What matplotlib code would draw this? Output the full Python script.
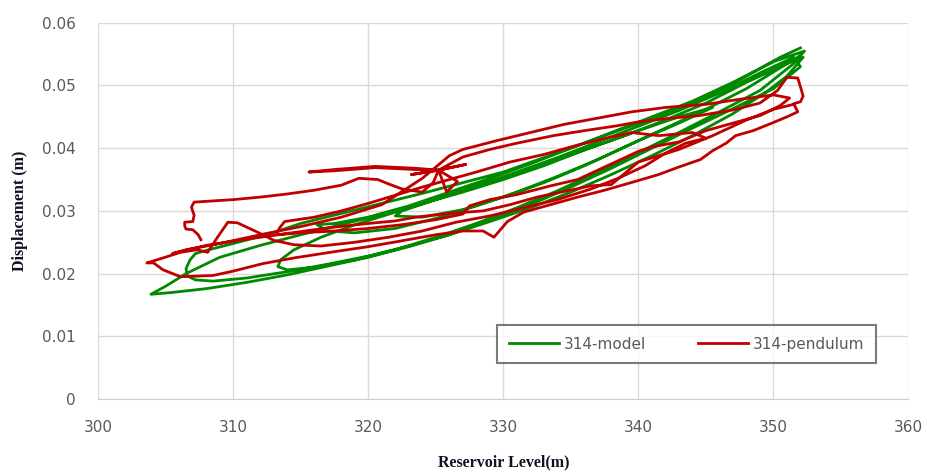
import matplotlib
matplotlib.use('Agg')
import matplotlib.pyplot as plt

# 314-model: reservoir level (m) vs displacement (m), several hysteresis loops
model_level = [
    352.0, 350.5, 348.0, 345.0, 342.0, 339.0, 336.0, 333.0, 330.0, 327.0, 324.0, 321.0, 318.0, 315.0,
    312.5, 310.0, 308.0, 307.2, 306.8, 306.5, 306.6, 307.2,
    308.5, 311.0, 314.0, 317.0, 320.0, 323.0, 326.0, 329.0, 332.0, 335.0, 338.0, 341.0, 344.0, 347.0,
    349.5, 351.0, 352.2,
    351.0, 348.0, 345.0, 342.0, 339.0, 336.0, 333.0, 330.0, 327.0, 324.0, 321.0, 318.0, 315.0, 312.0,
    309.0, 306.5, 305.0, 303.9,
    305.5, 308.0, 311.0, 314.0, 317.0, 320.0, 323.0, 326.0, 329.0, 332.0, 335.0, 338.0, 341.0, 344.0,
    347.0, 350.0, 352.0,
    351.5, 349.0, 346.0, 343.0, 340.0, 337.0, 334.0, 331.0, 328.0, 325.0, 322.0, 319.0, 316.5, 314.5,
    313.5, 313.3, 314.0,
    316.0, 319.0, 322.0, 325.0, 328.0, 331.0, 334.0, 337.0, 340.0, 343.0, 346.0, 349.0, 351.5, 352.3,
    350.0, 347.0, 344.0, 341.0, 338.0, 335.0, 332.0, 329.0, 326.0, 323.0, 320.0, 317.5, 316.2, 317.0,
    319.0, 322.0, 325.0, 328.0, 331.0, 334.0, 337.0, 340.0, 343.0, 345.5,
    343.0, 340.0, 337.0, 334.0, 331.0, 328.0, 325.0, 322.5, 322.0,
    324.0, 327.0, 330.0, 333.0, 336.0, 339.0, 342.0, 345.0, 348.0, 350.5, 352.0,
]
model_disp = [
    0.0560, 0.0545, 0.0515, 0.0480, 0.0455, 0.0432, 0.0408, 0.0385, 0.0362, 0.0345, 0.0328, 0.0312, 0.0296, 0.0280,
    0.0262, 0.0248, 0.0237, 0.0232, 0.0222, 0.0208, 0.0196, 0.0190,
    0.0188, 0.0193, 0.0203, 0.0215, 0.0228, 0.0244, 0.0262, 0.0283, 0.0305, 0.0330, 0.0358, 0.0388, 0.0420, 0.0455,
    0.0490, 0.0515, 0.0545,
    0.0535, 0.0505, 0.0472, 0.0445, 0.0420, 0.0397, 0.0372, 0.0350, 0.0330, 0.0312, 0.0295, 0.0278, 0.0262, 0.0245,
    0.0226, 0.0200, 0.0180, 0.0167,
    0.0170, 0.0176, 0.0186, 0.0198, 0.0212, 0.0226, 0.0243, 0.0262, 0.0285, 0.0310, 0.0338, 0.0368, 0.0400, 0.0432,
    0.0463, 0.0495, 0.0530,
    0.0545, 0.0520, 0.0488, 0.0460, 0.0435, 0.0410, 0.0385, 0.0362, 0.0340, 0.0318, 0.0298, 0.0278, 0.0258, 0.0238,
    0.0222, 0.0211, 0.0206,
    0.0210, 0.0222, 0.0238, 0.0258, 0.0280, 0.0305, 0.0332, 0.0362, 0.0393, 0.0425, 0.0458, 0.0492, 0.0535, 0.0555,
    0.0538, 0.0505, 0.0475, 0.0450, 0.0425, 0.0400, 0.0375, 0.0352, 0.0330, 0.0308, 0.0290, 0.0280, 0.0278, 0.0268,
    0.0265, 0.0272, 0.0288, 0.0308, 0.0330, 0.0355, 0.0382, 0.0412, 0.0440, 0.0465,
    0.0450, 0.0428, 0.0405, 0.0382, 0.0360, 0.0338, 0.0318, 0.0300, 0.0292,
    0.0290, 0.0302, 0.0322, 0.0345, 0.0372, 0.0402, 0.0432, 0.0462, 0.0495, 0.0528, 0.0548,
]

pendulum_level = [
    307.6, 307.4, 307.0, 306.5, 306.4, 306.4, 307.0, 307.1, 306.9, 307.1, 308.5, 310.0, 312.0, 314.0,
    316.0, 318.0, 319.3, 320.7, 321.5, 322.5, 324.0, 324.8, 325.2,
    323.5, 320.5, 317.5, 315.6, 317.5, 320.5, 323.5, 325.2,
    323.2, 325.2, 326.6, 325.8, 325.2, 327.2, 325.2,
    327.0, 329.0, 331.0, 333.7, 336.0, 338.5, 340.0, 342.0, 344.5, 347.0, 349.0, 350.3, 351.0, 351.8,
    352.0, 352.2, 352.0, 351.5, 351.8, 351.0, 350.0,
    348.5, 347.2, 346.5, 345.5, 344.6, 343.0, 341.5, 339.6, 337.5, 335.5, 333.5, 331.5, 330.3, 329.3,
    328.5, 327.0, 325.0, 322.4, 320.0, 317.2, 314.5, 312.2, 310.0, 308.5, 306.1, 304.8, 304.1, 303.6,
    304.8, 306.1, 307.3, 308.1, 308.8, 309.6, 310.3, 311.8, 313.0, 314.5, 316.5, 319.0, 321.5, 324.0,
    326.5, 329.0, 331.5, 334.0, 336.5, 338.5, 340.5, 342.0, 343.5, 345.0, 344.0, 341.5, 339.5, 338.0,
    335.5, 333.0, 330.5, 328.0, 326.0, 324.0, 322.0, 320.0, 318.0, 316.0, 313.8, 313.4, 313.2, 315.0,
    317.5, 320.0, 322.5, 325.0, 327.0, 327.5, 329.0, 331.0, 333.5, 335.5, 337.0, 338.5, 340.0, 341.0,
    343.0, 345.0, 347.0, 349.0, 350.5, 351.2, 350.0, 347.5, 345.0, 342.0, 339.5, 337.0, 334.5, 332.0,
    329.5, 327.0, 326.0, 324.0, 321.0, 318.0, 315.0, 312.0, 309.0, 306.5, 305.5,
    308.0, 311.0, 314.0, 317.0, 320.0, 322.0, 323.5, 326.0, 328.5, 330.5, 332.5, 334.5, 336.5, 338.0,
    339.0, 340.0, 341.5, 343.0, 345.5, 348.0, 350.0, 351.5,
]
pendulum_disp = [
    0.0254, 0.0262, 0.0270, 0.0271, 0.0276, 0.0282, 0.0283, 0.0293, 0.0306, 0.0314, 0.0316, 0.0318, 0.0322, 0.0327,
    0.0333, 0.0341, 0.0352, 0.0350, 0.0343, 0.0335, 0.0330, 0.0345, 0.0365,
    0.0368, 0.0371, 0.0366, 0.0362, 0.0364, 0.0369, 0.0366, 0.0365,
    0.0358, 0.0365, 0.0347, 0.0330, 0.0365, 0.0374, 0.0365,
    0.0386, 0.0398, 0.0408, 0.0420, 0.0428, 0.0436, 0.0442, 0.0447, 0.0452, 0.0461, 0.0472, 0.0492, 0.0513, 0.0512,
    0.0498, 0.0483, 0.0474, 0.0471, 0.0458, 0.0450, 0.0441,
    0.0428, 0.0420, 0.0408, 0.0396, 0.0382, 0.0370, 0.0358, 0.0346, 0.0333, 0.0322, 0.0310, 0.0298, 0.0283, 0.0258,
    0.0268, 0.0268, 0.0262, 0.0252, 0.0243, 0.0234, 0.0225, 0.0216, 0.0204, 0.0197, 0.0195, 0.0206, 0.0217, 0.0217,
    0.0225, 0.0234, 0.0238, 0.0234, 0.0257, 0.0282, 0.0281, 0.0266, 0.0253, 0.0246, 0.0244, 0.0250, 0.0258, 0.0268,
    0.0282, 0.0292, 0.0305, 0.0318, 0.0335, 0.0352, 0.0372, 0.0392, 0.0408, 0.0416, 0.0425, 0.0420, 0.0425, 0.0418,
    0.0405, 0.0390, 0.0378, 0.0362, 0.0350, 0.0338, 0.0325, 0.0312, 0.0300, 0.0290, 0.0283, 0.0272, 0.0262, 0.0265,
    0.0268, 0.0272, 0.0278, 0.0286, 0.0295, 0.0308, 0.0318, 0.0326, 0.0340, 0.0350, 0.0365, 0.0380, 0.0395, 0.0402,
    0.0410, 0.0428, 0.0440, 0.0452, 0.0468, 0.0480, 0.0485, 0.0478, 0.0470, 0.0465, 0.0458, 0.0448, 0.0438, 0.0425,
    0.0412, 0.0398, 0.0388, 0.0352, 0.0310, 0.0290, 0.0275, 0.0262, 0.0248, 0.0238, 0.0232,
    0.0245, 0.0255, 0.0264, 0.0273, 0.0280, 0.0284, 0.0290, 0.0296, 0.0300, 0.0310, 0.0322, 0.0331, 0.0340, 0.0342,
    0.0360, 0.0378, 0.0388, 0.0398, 0.0420, 0.0445, 0.0462, 0.0470,
]

x_ticks = [300, 310, 320, 330, 340, 350, 360]
y_ticks = [0, 0.01, 0.02, 0.03, 0.04, 0.05, 0.06]
y_tick_labels = ['0', '0.01', '0.02', '0.03', '0.04', '0.05', '0.06']

fig = plt.figure(figsize=(9.27, 4.75), dpi=100)
ax = fig.add_axes([0.106, 0.160, 0.874, 0.792])

ax.plot(model_level, model_disp, color='#008a00', linewidth=2.0, label='314-model', zorder=3)
ax.plot(pendulum_level, pendulum_disp, color='#c00000', linewidth=2.0, label='314-pendulum', zorder=4)

ax.set_xlim(300, 360)
ax.set_ylim(0, 0.06)
ax.set_xticks(x_ticks)
ax.set_yticks(y_ticks)
ax.set_yticklabels(y_tick_labels)
ax.grid(True, color='#d9d9d9', linewidth=1)
ax.set_axisbelow(True)
for side in ['top', 'right', 'left']:
    ax.spines[side].set_visible(False)
ax.spines['bottom'].set_color('#d0d0d0')
ax.tick_params(axis='both', length=0, labelcolor='#595959', labelsize=11)
ax.tick_params(axis='x', pad=15)
ax.tick_params(axis='y', pad=16)

ax.set_xlabel('Reservoir Level(m)', fontfamily='Liberation Serif', fontweight='bold',
              fontsize=11.5, color='#111122', labelpad=14)
ax.set_ylabel('Displacement (m)', fontfamily='Liberation Serif', fontweight='bold',
              fontsize=11.5, color='#111122', labelpad=10)

leg = ax.legend(loc='center', bbox_to_anchor=(0.726, 0.146), ncol=2, fancybox=False,
                frameon=True, fontsize=11, handlelength=3.3, columnspacing=3.4,
                borderpad=0.75, handletextpad=0.3, borderaxespad=0)
leg.get_frame().set_edgecolor('#5a5a5a')
leg.get_frame().set_linewidth(1.5)
for t in leg.get_texts():
    t.set_color('#595959')

fig.savefig('out.png', dpi=100)
